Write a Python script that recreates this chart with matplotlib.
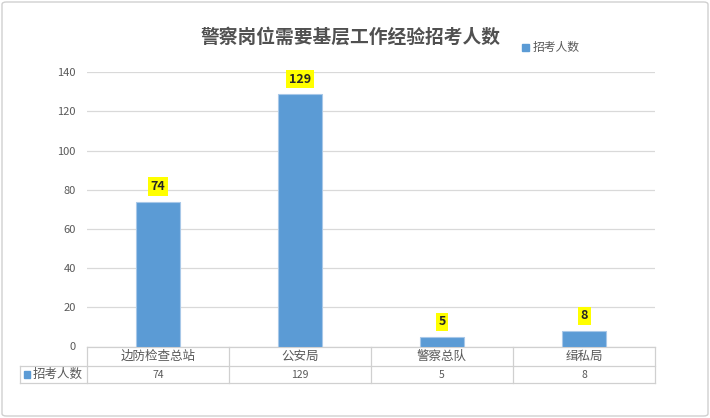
import matplotlib
matplotlib.use('Agg')
import matplotlib.pyplot as plt
from matplotlib.patches import FancyBboxPatch, Rectangle
import numpy as np

plt.rcParams['font.family'] = ['Noto Sans CJK SC', 'DejaVu Sans']

# --- data ---
title = '警察岗位需要基层工作经验招考人数'
series_name = '招考人数'
categories = ['边防检查总站', '公安局', '警察总队', '缉私局']
values = [74, 129, 5, 8]
y_ticks = [0, 20, 40, 60, 80, 100, 120, 140]

bar_color = '#5B9BD5'
grid_color = '#D9D9D9'
text_gray = '#595959'

fig = plt.figure(figsize=(7.1, 4.18), dpi=100)
W, H = 710, 418

# outer chart border
fig.patches.append(FancyBboxPatch((2 / W, 2 / H), 706 / W, 414 / H,
                                  boxstyle='round,pad=0,rounding_size=0.006',
                                  transform=fig.transFigure, fc='none',
                                  ec='#D0D0D0', lw=1.0, zorder=5))

# plot area in pixels: left 87, right 655, y(0)=346.5, y(140)=72.3
left, right, y0, y140 = 87, 655, 346.5, 72.3
ax = fig.add_axes([left / W, (H - y0) / H, (right - left) / W, (y0 - y140) / H])
ax.set_facecolor('none')

x = np.arange(len(categories))
ax.bar(x, values, width=0.31, color=bar_color, edgecolor='#A8C8E8', lw=0.8, zorder=3)
ax.set_xlim(-0.5, len(categories) - 0.5)
ax.set_ylim(0, 140)
ax.set_yticks(y_ticks)
ax.set_yticklabels([str(t) for t in y_ticks], color=text_gray, fontsize=8)
ax.tick_params(axis='y', length=0, pad=8)
ax.set_xticks([])
for s in ax.spines.values():
    s.set_visible(False)
ax.grid(axis='y', color=grid_color, lw=0.9, zorder=0)
ax.set_axisbelow(True)

# data labels
for xi, v in zip(x, values):
    ax.annotate(str(v), (xi, v), xytext=(0, 6), textcoords='offset points',
                ha='center', va='bottom', fontsize=9, fontweight='bold', color='#262626',
                bbox=dict(boxstyle='square,pad=0.22', fc='#FFFF00', ec='none'), zorder=5)

# data table below the axis
px = (y0 - y140)  # axes height in px
row1 = -(366 - y0) / px
row2 = -(383.3 - y0) / px
leg_left = -0.5 - (87 - 20) / 142.0
lc = '#D0D0D0'
trans = ax.get_xaxis_transform()
for yy in (0, row1, row2):
    x_start = -0.5 if yy == 0 else leg_left
    ax.plot([x_start, len(categories) - 0.5], [yy, yy], color=lc, lw=0.9,
            transform=trans, clip_on=False)
for k in range(len(categories) + 1):
    ax.plot([k - 0.5, k - 0.5], [0, row2], color=lc, lw=0.9, transform=trans, clip_on=False)
ax.plot([leg_left, leg_left], [row1, row2], color=lc, lw=0.9, transform=trans, clip_on=False)

for xi, cat, v in zip(x, categories, values):
    ax.text(xi, row1 / 2, cat, ha='center', va='center', fontsize=9, color=text_gray,
            transform=trans, clip_on=False)
    ax.text(xi, (row1 + row2) / 2, str(v), ha='center', va='center', fontsize=7.5,
            color=text_gray, transform=trans, clip_on=False)

# legend key in table
ax.add_patch(Rectangle((leg_left + 0.03, (row1 + row2) / 2 - 0.012), 0.04, 0.024,
                       transform=trans, color=bar_color, clip_on=False))
ax.text(leg_left + 0.09, (row1 + row2) / 2, series_name, ha='left', va='center',
        fontsize=9, color=text_gray, transform=trans, clip_on=False)

# title and legend
fig.text(351 / W, 1 - 37 / H, title, ha='center', va='center', fontsize=13.5,
         fontweight='bold', color='#505050')
fig.patches.append(Rectangle((522 / W, 1 - 51 / H), 7 / W, 7 / H,
                             transform=fig.transFigure, color=bar_color))
fig.text(533 / W, 1 - 47 / H, series_name, ha='left', va='center', fontsize=8.5,
         color=text_gray)

fig.savefig('out.png', dpi=100)
